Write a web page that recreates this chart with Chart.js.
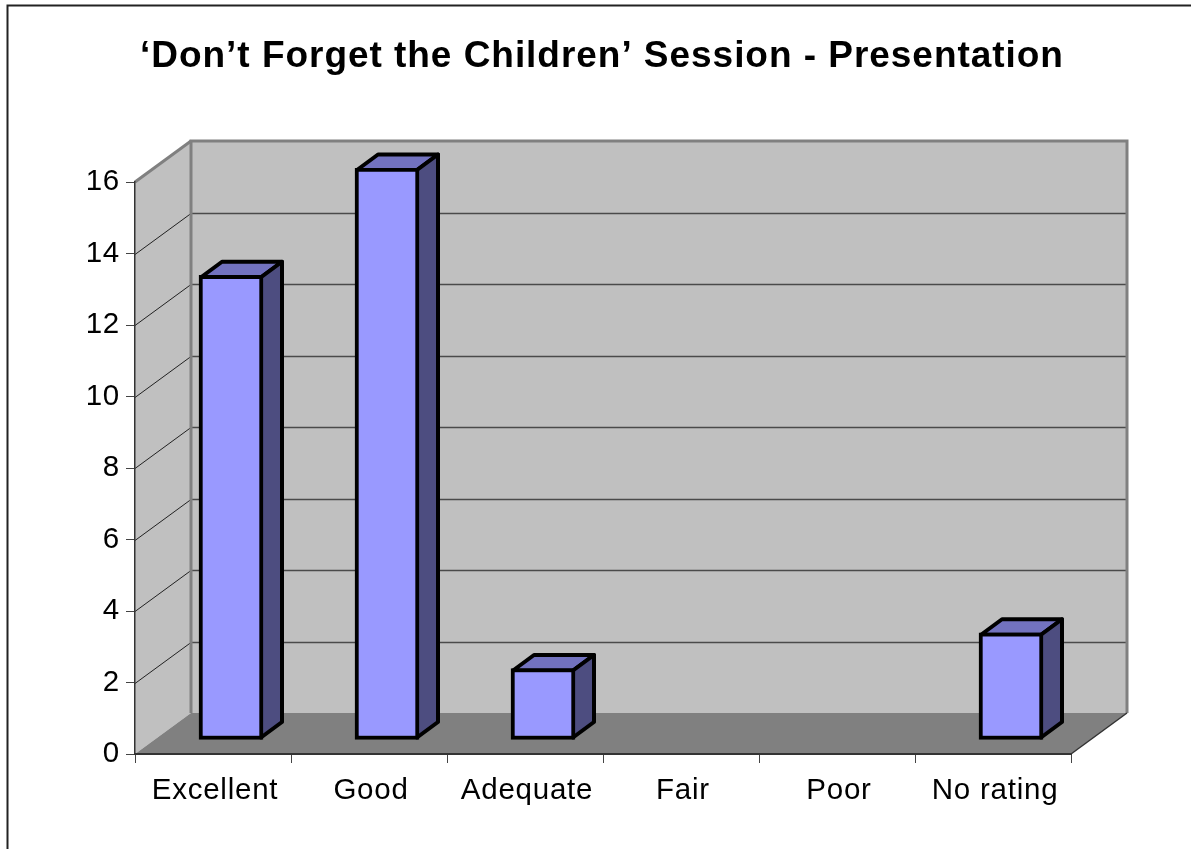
<!DOCTYPE html>
<html>
<head>
<meta charset="utf-8">
<script src="https://cdn.jsdelivr.net/npm/chart.js@4"></script>
<style>html,body{margin:0;padding:0;background:#fff}canvas{display:block}</style>
</head>
<body>
<canvas id="c" width="1191" height="849"></canvas>
<script>
const chartTitle = '‘Don’t Forget the Children’ Session - Presentation';
const categories = ['Excellent', 'Good', 'Adequate', 'Fair', 'Poor', 'No rating'];
const responses = [13, 16, 2, 0, 0, 3];
const axisMax = 16;
const axisStep = 2;

const FONT = '"Liberation Sans", Arial, sans-serif';
const DEPTH_X = 56, DEPTH_Y = -41;      // wall depth
const BAR_DX = 18, BAR_DY = -14;        // bars stand inside the floor
const SIDE_X = 21, SIDE_Y = -15.5;      // bar depth

function poly(ctx, pts, fill, stroke, lw) {
  ctx.beginPath();
  pts.forEach((p, i) => i ? ctx.lineTo(p[0], p[1]) : ctx.moveTo(p[0], p[1]));
  ctx.closePath();
  if (fill) { ctx.fillStyle = fill; ctx.fill(); }
  if (stroke) { ctx.strokeStyle = stroke; ctx.lineWidth = lw; ctx.lineJoin = 'round'; ctx.stroke(); }
}
function seg(ctx, x1, y1, x2, y2, color, lw) {
  ctx.beginPath(); ctx.moveTo(x1, y1); ctx.lineTo(x2, y2);
  ctx.strokeStyle = color; ctx.lineWidth = lw; ctx.stroke();
}

const scene = {
  id: 'scene',
  beforeDraw(chart) {
    const { ctx, chartArea: a, scales: { y } } = chart;
    const L = a.left, R = a.right, T = a.top, B = a.bottom;
    const dx = DEPTH_X, dy = DEPTH_Y;
    ctx.save();
    // page frame
    ctx.beginPath(); ctx.moveTo(7.5, 849); ctx.lineTo(7.5, 5.5); ctx.lineTo(1191, 5.5);
    ctx.strokeStyle = '#222'; ctx.lineWidth = 2; ctx.stroke();
    // walls
    poly(ctx, [[L, B], [L, T], [L + dx, T + dy], [L + dx, B + dy]], '#C0C0C0');
    poly(ctx, [[L + dx, T + dy], [R + dx, T + dy], [R + dx, B + dy], [L + dx, B + dy]], '#C0C0C0');
    // gridlines on side and back wall
    y.ticks.forEach(t => {
      if (t.value === 0 || t.value === axisMax) return;
      const py = Math.round(y.getPixelForValue(t.value)) + 0.5;
      seg(ctx, L, py, L + dx, py + dy, '#222', 1);
      seg(ctx, L + dx, py + dy, R + dx, py + dy, '#4a4a4a', 1.5);
    });
    // wall outlines
    seg(ctx, L, T, L + dx, T + dy, '#808080', 3);
    ctx.beginPath(); ctx.moveTo(L + dx, B + dy); ctx.lineTo(L + dx, T + dy);
    ctx.lineTo(R + dx, T + dy); ctx.lineTo(R + dx, B + dy);
    ctx.strokeStyle = '#808080'; ctx.lineWidth = 3; ctx.stroke();
    // floor
    poly(ctx, [[L, B], [L + dx, B + dy], [R + dx, B + dy], [R, B]], '#808080');
    seg(ctx, R, B, R + dx, B + dy, '#333', 1.5);
    ctx.restore();
    // slightly open text spacing, as in the reference
    ctx.letterSpacing = '0.026em';
  },
  beforeDatasetsDraw(chart) {
    const { ctx } = chart;
    ctx.save();
    ctx.translate(BAR_DX, BAR_DY);
    chart.getDatasetMeta(0).data.forEach((el, i) => {
      if (!responses[i]) return;
      const p = el.getProps(['x', 'y', 'base', 'width'], true);
      const l = p.x - p.width / 2 + 2, r = p.x + p.width / 2 - 2;
      const t = p.y + 2, b = p.base - 2;
      poly(ctx, [[l, t], [l + SIDE_X, t + SIDE_Y], [r + SIDE_X, t + SIDE_Y], [r, t]], '#7272BF', '#000', 4);
      poly(ctx, [[r, t], [r + SIDE_X, t + SIDE_Y], [r + SIDE_X, b + SIDE_Y], [r, b]], '#4D4D80', '#000', 4);
    });
  },
  afterDatasetsDraw(chart) {
    chart.ctx.restore();
  }
};

new Chart(document.getElementById('c'), {
  type: 'bar',
  data: {
    labels: categories,
    datasets: [{
      data: responses,
      backgroundColor: '#9999FF',
      borderColor: '#000',
      borderWidth: 4,
      borderSkipped: false,
      barThickness: 64
    }]
  },
  options: {
    responsive: false,
    animation: false,
    devicePixelRatio: 1,
    layout: { padding: { left: 13, right: 0, top: 0, bottom: 0 } },
    plugins: {
      legend: { display: false },
      tooltip: { enabled: false },
      title: {
        display: true,
        text: chartTitle,
        color: '#000',
        font: { family: FONT, size: 37, weight: 'bold', lineHeight: 1.2 },
        padding: { top: 35, bottom: 102.6 }
      }
    },
    scales: {
      x: {
        afterFit(s) { s.height = 95; },
        grid: { drawOnChartArea: false, drawTicks: true, tickLength: 9, color: '#444', lineWidth: 1 },
        border: { color: '#333', width: 2 },
        ticks: { color: '#000', padding: 10, labelOffset: 2, maxRotation: 0, font: { family: FONT, size: 29.5 } }
      },
      y: {
        min: 0, max: axisMax,
        afterFit(s) { s.width = 122; },
        grid: { drawOnChartArea: false, drawTicks: true, tickLength: 9, color: '#444', lineWidth: 1 },
        border: { color: '#333', width: 1.5 },
        ticks: { stepSize: axisStep, color: '#000', padding: 6, font: { family: FONT, size: 29.5 } }
      },
      rightMargin: {
        position: 'right',
        afterFit(s) { s.width = 120; },
        grid: { display: false },
        border: { display: false },
        ticks: { display: false }
      }
    }
  },
  plugins: [scene]
});
</script>
</body>
</html>
